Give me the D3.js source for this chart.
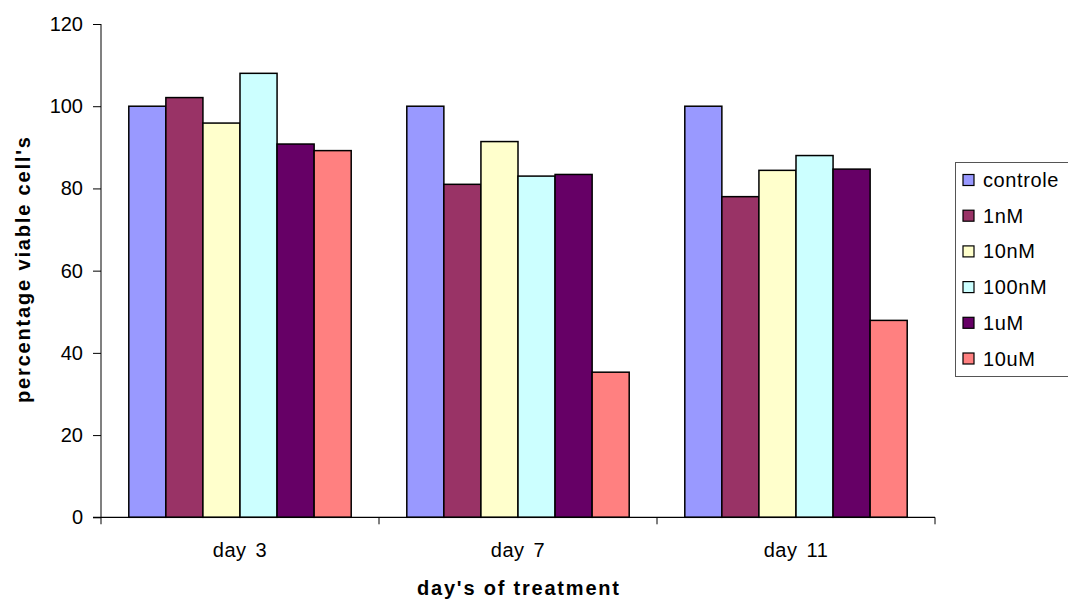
<!DOCTYPE html>
<html>
<head>
<meta charset="utf-8">
<script src="https://cdn.jsdelivr.net/npm/d3@7"></script>
<style>
  html, body { margin: 0; padding: 0; background: #fff; }
  svg { display: block; font-family: "Liberation Sans", Arial, sans-serif; }
</style>
</head>
<body>
<svg id="chart" width="1068" height="600"></svg>
<script>
const days = ["day 3", "day 7", "day 11"];
const seriesNames = ["controle", "1nM", "10nM", "100nM", "1uM", "10uM"];
const controle = [100, 100, 100];
const nM1 = [102.1, 81.0, 78.0];
const nM10 = [95.9, 91.4, 84.4];
const nM100 = [108.0, 83.0, 88.0];
const uM1 = [90.8, 83.4, 84.7];
const uM10 = [89.2, 35.3, 47.9];
const yTicks = [0, 20, 40, 60, 80, 100, 120];
const colors = ["#9999FF", "#993366", "#FFFFCC", "#CCFFFF", "#660066", "#FF8080"];

const seriesValues = [controle, nM1, nM10, nM100, uM1, uM10];

(function () {
const svg = d3.select("#chart");
const pLeft = 101, pRight = 935, pTop = 24, pBottom = 517.3;
const FS = 20;

const x = d3.scaleBand().domain(days).range([pLeft, pRight]).paddingInner(0).paddingOuter(0);
const xs = d3.scaleBand().domain(seriesNames).range([0, x.bandwidth()]).paddingInner(0).paddingOuter(0.75);
const y = d3.scaleLinear().domain([0, 120]).range([pBottom, pTop]);

// bars
const rows = [];
days.forEach((d, i) => seriesNames.forEach((s, j) => rows.push({day: d, s, j, v: seriesValues[j][i]})));
svg.append("g").selectAll("rect").data(rows).join("rect")
  .attr("x", d => x(d.day) + xs(d.s))
  .attr("y", d => y(d.v))
  .attr("width", xs.bandwidth())
  .attr("height", d => y(0) - y(d.v))
  .attr("fill", d => colors[d.j])
  .attr("stroke", "#000")
  .attr("stroke-width", 1.5);

// y axis
const yAxis = svg.append("g").attr("transform", `translate(${pLeft},0)`)
  .call(d3.axisLeft(y).tickValues(yTicks).tickSize(8).tickPadding(10).tickFormat(d3.format("d")));
yAxis.select(".domain").attr("stroke", "#808080").attr("stroke-width", 2)
  .attr("d", `M0,${pTop}V${pBottom + 7}`);
yAxis.selectAll(".tick line").attr("stroke", "#000");
yAxis.selectAll(".tick text").attr("font-size", FS).attr("fill", "#000")
  .attr("font-family", "Liberation Sans, Arial, sans-serif");

// x axis
const xAxis = svg.append("g").attr("transform", `translate(0,${pBottom})`)
  .call(d3.axisBottom(x).tickSize(0).tickPadding(26));
xAxis.select(".domain").attr("stroke", "#000").attr("stroke-width", 1.2)
  .attr("d", `M${pLeft - 8},0H${pRight}`);
xAxis.selectAll(".tick text").attr("font-size", FS).attr("fill", "#000")
  .attr("letter-spacing", 0.5).attr("word-spacing", 3)
  .attr("font-family", "Liberation Sans, Arial, sans-serif");
const bounds = days.map(d => x(d)).concat([pRight]);
xAxis.selectAll(".sep").data(bounds.slice(1)).join("line")
  .attr("x1", d => d).attr("x2", d => d).attr("y1", 0).attr("y2", 7)
  .attr("stroke", "#000");

// axis titles
svg.append("text").attr("x", 518).attr("y", 595).attr("text-anchor", "middle")
  .attr("font-size", FS).attr("font-weight", "bold")
  .attr("textLength", 202).attr("lengthAdjust", "spacing")
  .text("day's of treatment");
svg.append("text").attr("transform", "translate(30,270) rotate(-90)").attr("text-anchor", "middle")
  .attr("font-size", FS).attr("font-weight", "bold")
  .attr("textLength", 266).attr("lengthAdjust", "spacing")
  .text("percentage viable cell's");

// legend
const lg = svg.append("g");
lg.append("rect").attr("x", 955.5).attr("y", 162.5).attr("width", 120).attr("height", 214)
  .attr("fill", "#fff").attr("stroke", "#555").attr("stroke-width", 1);
const rowY = d3.scalePoint().domain(seriesNames).range([187, 365.5]);
const items = lg.selectAll(".item").data(seriesNames).join("g")
  .attr("transform", d => `translate(0,${rowY(d)})`);
items.append("rect").attr("x", 963).attr("y", -12.5).attr("width", 11).attr("height", 11)
  .attr("fill", (d, i) => colors[i]).attr("stroke", "#000").attr("stroke-width", 1.2);
items.append("text").attr("x", 983).attr("y", 0).attr("font-size", FS)
  .attr("letter-spacing", 0.6).text(d => d);
})();
</script>
</body>
</html>
